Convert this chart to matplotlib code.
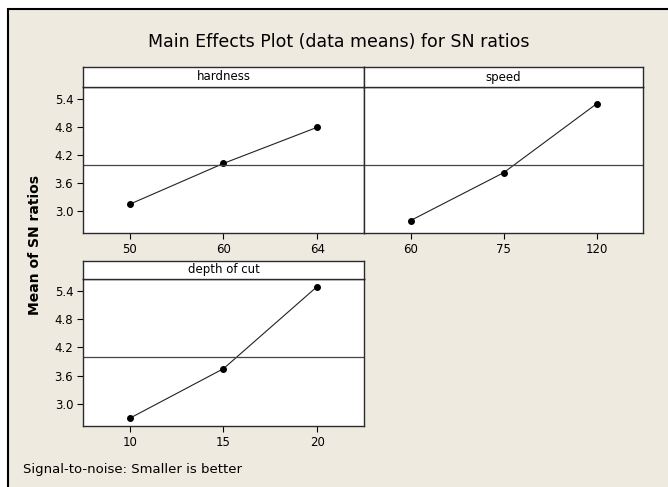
import matplotlib
matplotlib.use('Agg')
import matplotlib.pyplot as plt
from matplotlib.patches import Rectangle

# Data (mean SN ratio per factor level).
hardnessLevels = ['50', '60', '64']
hardnessMeans = [3.15, 4.02, 4.79]
speedLevels = ['60', '75', '120']
speedMeans = [2.80, 3.82, 5.29]
depthLevels = ['10', '15', '20']
depthMeans = [2.70, 3.75, 5.49]
overallMean = 3.99
yTicks = [3.0, 3.6, 4.2, 4.8, 5.4]

# Figure geometry in pixels.
W, H = 668, 487
bgColor = '#EEEAE0'
spineColor = '#2b2b2b'

plt.rcParams['font.family'] = ['DejaVu Sans']


def pixBox(x0, y0, x1, y1):
    return [x0 / W, 1 - y1 / H, (x1 - x0) / W, (y1 - y0) / H]


fig = plt.figure(figsize=(W / 100, H / 100), dpi=100)
fig.patch.set_facecolor('white')
# Beige window with dark top/left border (right and bottom run off the image).
fig.patches.append(Rectangle((8 / W, -0.1), 1.2, 1.1 - 9 / H,
                             transform=fig.transFigure,
                             facecolor=bgColor, edgecolor='black',
                             linewidth=1.5, zorder=-1))

fig.text(339 / W, 1 - 42 / H, 'Main Effects Plot (data means) for SN ratios',
         ha='center', va='center', fontsize=12.5)
fig.text(35 / W, 1 - 245 / H, 'Mean of SN ratios', rotation=90,
         ha='center', va='center', fontsize=10, fontweight='bold')
fig.text(23 / W, 1 - 470 / H, 'Signal-to-noise: Smaller is better',
         ha='left', va='center', fontsize=9.5)


def drawPanel(plotBox, headerBox, levels, means, title, showY):
    ax = fig.add_axes(pixBox(*plotBox))
    ax.set_facecolor('white')
    xs = list(range(len(levels)))
    ax.plot(xs, means, color='#222222', linewidth=0.8, marker='o',
            markersize=4, markerfacecolor='black', markeredgecolor='black')
    ax.axhline(overallMean, color='#444444', linewidth=0.9)
    ax.set_xlim(-0.5, len(levels) - 0.5)
    ax.set_ylim(2.535, 5.65)
    ax.set_xticks(xs)
    ax.set_xticklabels(levels)
    ax.set_yticks(yTicks)
    if showY:
        ax.set_yticklabels(['%.1f' % v for v in yTicks])
        ax.tick_params(axis='y', length=4, width=0.8, pad=3, labelsize=8.5)
    else:
        ax.tick_params(axis='y', left=False, labelleft=False)
    ax.tick_params(axis='x', length=4, width=0.8, pad=3, labelsize=8.5)
    for s in ax.spines.values():
        s.set_color(spineColor)
        s.set_linewidth(1.0)

    hx = fig.add_axes(pixBox(*headerBox))
    hx.set_facecolor('white')
    hx.set_xticks([])
    hx.set_yticks([])
    for s in hx.spines.values():
        s.set_color(spineColor)
        s.set_linewidth(1.0)
    hx.text(0.5, 0.5, title, ha='center', va='center', fontsize=8.5,
            transform=hx.transAxes)
    return ax


drawPanel((83, 87, 364, 233), (83, 67, 364, 87),
          hardnessLevels, hardnessMeans, 'hardness', True)
drawPanel((364, 87, 643, 233), (364, 67, 643, 87),
          speedLevels, speedMeans, 'speed', False)
drawPanel((83, 279, 364, 426), (83, 261, 364, 279),
          depthLevels, depthMeans, 'depth of cut', True)

fig.savefig('out.png', dpi=100, facecolor=fig.get_facecolor())
